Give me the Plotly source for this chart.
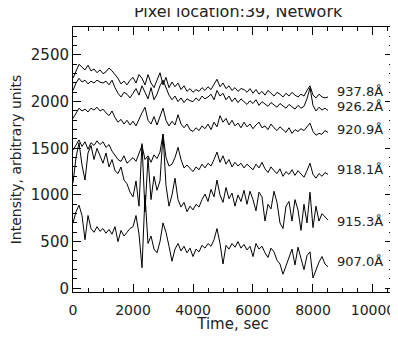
import numpy as np
import plotly.graph_objects as go

# time axis, one sample every 100 s
time = np.arange(0, 8600, 100)

wavelengths = ['937.8Å', '926.2Å', '920.9Å', '918.1Å', '915.3Å', '907.0Å']

i_937 = [2250, 2330, 2400, 2370, 2340, 2390, 2330, 2350, 2310, 2340,
         2300, 2320, 2360, 2330, 2290, 2250, 2190, 2220, 2180, 2230,
         2260, 2200, 2290, 2250, 2180, 2290, 2200, 2150, 2230, 2310,
         2180, 2260, 2150, 2210, 2160, 2200, 2130, 2170, 2110, 2140,
         2100, 2130, 2110, 2150, 2120, 2160, 2130, 2180, 2240, 2160,
         2200, 2140, 2170, 2120, 2150, 2110, 2140, 2130, 2100, 2140,
         2090, 2130, 2080, 2110, 2070, 2120, 2090, 2060, 2100, 2080,
         2050, 2090, 2060, 2100, 2070, 2050, 2080, 2060, 2120, 2170,
         2070, 2040, 2080, 2050, 2040, 2050]
i_926 = [2120, 2200, 2250, 2210, 2230, 2190, 2220, 2200, 2230, 2210,
         2200, 2220, 2180, 2230, 2150, 2090, 2050, 2100, 2080, 2040,
         2090, 2140, 2070, 2170, 2100, 2030, 2150, 2020, 2080, 2170,
         2230, 2150, 2070, 2020, 2060, 2000, 2040, 1990, 2030, 2010,
         2000, 2040, 2010, 2060, 2030, 2050, 2080, 2020, 2120, 2060,
         2090, 2020, 2060, 2000, 2040, 1990, 2030, 2000, 1970, 2010,
         1980, 2020, 1960, 2000, 1970, 1950, 1990, 1960, 1940, 1980,
         1950, 1930, 1970, 1940, 1920, 1960, 1930, 1950, 2030, 2150,
         1960, 1900, 1940, 1910, 1930, 1905]
i_920 = [1820, 1880, 1930, 1900, 1920, 1890, 1930, 1910, 1940, 1900,
         1920, 1880, 1850, 1900, 1830, 1780, 1810, 1760, 1800, 1750,
         1790, 1740, 1820, 1880, 1940, 1800, 1760, 1840, 1750, 1850,
         1930, 1800, 1740, 1790, 1750, 1860, 1760, 1720, 1760, 1700,
         1680, 1720, 1690, 1740, 1710, 1760, 1700, 1780, 1730, 1850,
         1780, 1820, 1750, 1800, 1740, 1770, 1720, 1780, 1730, 1760,
         1710, 1750, 1780, 1720, 1740, 1700, 1760, 1720, 1690, 1730,
         1700, 1670, 1720, 1660, 1700, 1680, 1710, 1690, 1730, 1770,
         1680, 1640, 1660, 1650, 1690, 1670]
i_918 = [1480, 1540, 1590, 1520, 1570, 1490, 1560, 1530, 1580, 1540,
         1570, 1510, 1540, 1470, 1430, 1380, 1360, 1420, 1340, 1370,
         1400, 1360, 1450, 1530, 1380, 1420, 1350, 1430, 1390, 1460,
         1650, 1400, 1310, 1330, 1400, 1510, 1380, 1290, 1320, 1280,
         1250, 1300, 1270, 1330, 1290, 1340, 1310, 1380, 1460, 1350,
         1420, 1330, 1380, 1300, 1350, 1310, 1340, 1290, 1330, 1300,
         1270, 1330, 1290, 1350, 1280, 1240, 1300, 1260, 1230, 1280,
         1200, 1250, 1220, 1270, 1210, 1260, 1230, 1190, 1260, 1340,
         1220, 1180, 1230, 1200, 1240, 1220]
i_915 = [1130, 1400, 1560, 1320, 1160, 1450, 1530, 1380, 1500, 1420,
         1340, 1450, 1300, 1380, 1260, 1230, 1300, 1160, 1120, 1030,
         980, 1150, 880, 1550, 820, 1400, 950, 1200, 1050, 1150,
         1650, 1100, 880, 1000, 1180, 950, 870, 920, 820, 880,
         840, 900, 870, 950, 1010, 930, 1060, 980, 1160, 1000,
         920, 1080, 960, 1020, 880, 1000, 930, 1050, 900, 1040,
         950, 830, 1030, 980, 720, 900, 850, 1040, 920, 700,
         640, 880, 930, 720, 950, 840, 620, 900, 700, 1030,
         650, 880, 720, 800, 760, 730]
i_907 = [700, 820, 890, 780, 520, 780, 640, 600, 660, 610,
         640, 590, 630, 580, 660, 500, 620, 560, 600, 640,
         660, 780, 580, 220, 1000, 480, 560, 420, 380, 500,
         700, 600, 450, 290, 420, 480, 400, 450, 380, 430,
         340, 420, 390, 460, 430, 480, 450, 520, 640, 480,
         260, 460, 420, 480, 440, 500, 430, 470, 410, 450,
         340, 480, 420, 450, 380, 330, 430, 390, 300, 260,
         150, 240, 330, 420, 250, 440, 320, 200, 350, 390,
         110, 200, 280, 340, 260, 230]

series = [i_937, i_926, i_920, i_918, i_915, i_907]

fig = go.Figure()

for name, vals in zip(wavelengths, series):
    fig.add_trace(go.Scatter(x=time, y=vals, mode='lines', name=name,
                             line=dict(color='black', width=1)))

# wavelength labels at the right end of each curve
label_y = [2110, 1950, 1697, 1268, 711, 282]
for name, yy in zip(wavelengths, label_y):
    fig.add_annotation(x=8720, y=yy, text=name, showarrow=False,
                       xanchor='left', yanchor='middle',
                       font=dict(size=13, color='#222'))

axis_style = dict(showline=True, linecolor='black', linewidth=1, mirror='ticks',
                  ticks='inside', ticklen=8, tickcolor='black', showgrid=False,
                  zeroline=False, automargin=False, exponentformat='none',
                  tickformat='d', ticklabeloverflow='allow')

fig.update_xaxes(range=[0, 10667], dtick=2000, ticklabelstandoff=5,
                 tickfont=dict(size=14, color='#222'),
                 minor=dict(dtick=500, ticks='inside', ticklen=4, tickcolor='black'),
                 title=dict(text='Time, sec', font=dict(size=15, color='#222'), standoff=0),
                 **axis_style)
fig.update_yaxes(range=[-40, 2800], dtick=500,
                 tickfont=dict(size=15, color='#222'),
                 minor=dict(dtick=100, ticks='inside', ticklen=4, tickcolor='black'),
                 title=dict(text='Intensity, arbitrary units', font=dict(size=14, color='#222'), standoff=6),
                 **axis_style)

# the page body adds an 8px margin all round, so the figure is kept smaller
fig.update_layout(
    width=390, height=325,
    margin=dict(l=65, r=5, t=19, b=41),
    paper_bgcolor='white', plot_bgcolor='white',
    font=dict(family='DejaVu Sans', color='#222'),
    showlegend=False,
    title=dict(text='Pixel location:39, Network', x=0.59, xanchor='center',
               y=0.99, yanchor='middle', font=dict(size=16, color='#222')))

fig.write_html("out.html")
